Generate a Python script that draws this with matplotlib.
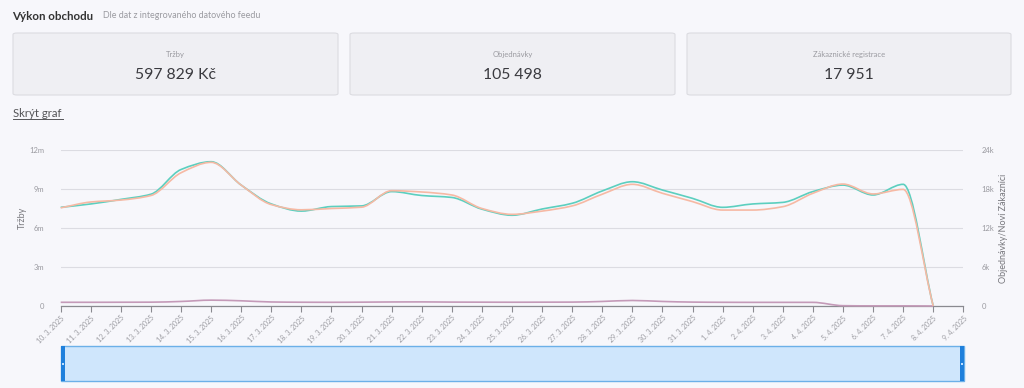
import matplotlib
matplotlib.use('Agg')
import matplotlib.pyplot as plt
import numpy as np
from matplotlib.path import Path
from matplotlib.patches import PathPatch, FancyBboxPatch, Rectangle
from matplotlib.lines import Line2D

plt.rcParams['font.family'] = ['Lato', 'DejaVu Sans']

dates = ['10. 3. 2025', '11. 3. 2025', '12. 3. 2025', '13. 3. 2025', '14. 3. 2025',
         '15. 3. 2025', '16. 3. 2025', '17. 3. 2025', '18. 3. 2025', '19. 3. 2025',
         '20. 3. 2025', '21. 3. 2025', '22. 3. 2025', '23. 3. 2025', '24. 3. 2025',
         '25. 3. 2025', '26. 3. 2025', '27. 3. 2025', '28. 3. 2025', '29. 3. 2025',
         '30. 3. 2025', '31. 3. 2025', '1. 4. 2025', '2. 4. 2025', '3. 4. 2025',
         '4. 4. 2025', '5. 4. 2025', '6. 4. 2025', '7. 4. 2025', '8. 4. 2025',
         '9. 4. 2025']

# trzby v milionech Kc (10.3. - 8.4.)
trzby = [7.59, 7.85, 8.2, 8.6, 10.5, 11.1, 9.3, 7.85, 7.3, 7.65,
         7.7, 8.8, 8.5, 8.35, 7.45, 6.98, 7.46, 7.9, 8.85, 9.56,
         8.92, 8.28, 7.59, 7.85, 7.97, 8.8, 9.3, 8.54, 9.36, 0]
objednavky = [15100, 16000, 16300, 17000, 20500, 22100, 18600, 15600, 14800, 15000,
              15200, 17740, 17540, 17080, 15000, 14100, 14600, 15400, 17200, 18720,
              17340, 16060, 14760, 14760, 15280, 17340, 18760, 17240, 17940, 0]
zakaznici = [570, 570, 580, 590, 700, 900, 800, 620, 580, 570,
             590, 620, 630, 600, 590, 580, 590, 600, 700, 850,
             700, 600, 570, 560, 560, 560, 50, 20, 20, 0]

kpi_labels = ['Tržby', 'Objednávky', 'Zákaznické registrace']
kpi_values = ['597 829 Kč', '105 498', '17 951']

W, H = 1024, 388
BG = '#f7f7fb'


def fx(px):
    return px / W


def fy(py):
    return 1 - py / H


def smooth(ax, y, color):
    # monotonni kubicka krivka pres body (Bezier)
    x = np.arange(len(y), dtype=float)
    y = np.asarray(y, dtype=float)
    d = np.diff(y)
    t = np.zeros(len(y))
    t[0], t[-1] = d[0], d[-1]
    for i in range(1, len(y) - 1):
        if d[i - 1] * d[i] > 0:
            t[i] = 2 / (1 / d[i - 1] + 1 / d[i])
    verts = [(x[0], y[0])]
    codes = [Path.MOVETO]
    for i in range(len(y) - 1):
        verts += [(x[i] + 1 / 3, y[i] + t[i] / 3),
                  (x[i + 1] - 1 / 3, y[i + 1] - t[i + 1] / 3),
                  (x[i + 1], y[i + 1])]
        codes += [Path.CURVE4] * 3
    ax.add_patch(PathPatch(Path(verts, codes), fill=False, edgecolor=color,
                           lw=1.2, zorder=3, clip_on=False))


fig = plt.figure(figsize=(W / 100, H / 100), dpi=100, facecolor=BG)

# hlavicka
fig.text(fx(12), fy(16), 'Výkon obchodu', fontsize=8.3, fontweight='bold',
         color='#333333', va='center')
fig.text(fx(103), fy(16), 'Dle dat z integrovaného datového feedu', fontsize=6.4,
         color='#9a9aa0', va='center')

# karty
cards_x = [(13, 338), (350, 675), (687, 1011)]
for (x0, x1), lab, val in zip(cards_x, kpi_labels, kpi_values):
    fig.add_artist(FancyBboxPatch((fx(x0), fy(95)), fx(x1 - x0), 62 / H,
                                  boxstyle='round,pad=0,rounding_size=0.004',
                                  transform=fig.transFigure, facecolor='#efeff3',
                                  edgecolor='#dcdce1', lw=0.8))
    cx = fx((x0 + x1) / 2)
    fig.text(cx, fy(54), lab, fontsize=5.5, color='#9a9aa0', ha='center', va='center')
    fig.text(cx, fy(75), val, fontsize=11.3, color='#3a3a3f', ha='center', va='center')

fig.text(fx(13), fy(113), 'Skrýt graf', fontsize=8.2, color='#555558', va='center')
fig.add_artist(Line2D([fx(13), fx(63)], [fy(119), fy(119)], color='#555558', lw=0.7))

# graf
ax = fig.add_axes([fx(60.7), fy(306), fx(902.6), 156 / H])
ax.set_facecolor(BG)
ax2 = ax.twinx()
ax.set_xlim(0, len(dates) - 1)
ax.set_ylim(0, 12)
ax2.set_ylim(0, 24000)

ax.set_yticks([0, 3, 6, 9, 12])
ax.set_yticklabels(['0', '3m', '6m', '9m', '12m'])
ax2.set_yticks([0, 6000, 12000, 18000, 24000])
ax2.set_yticklabels(['0', '6k', '12k', '18k', '24k'])
ax.grid(axis='y', color='#dcdce2', lw=0.8)
ax.set_axisbelow(True)
for a in (ax, ax2):
    for s in a.spines.values():
        s.set_visible(False)
    a.tick_params(axis='y', length=0, labelsize=5.5, labelcolor='#9a9aa0')
ax.tick_params(axis='y', pad=12)
ax2.tick_params(axis='y', pad=13)
ax.spines['bottom'].set_visible(True)
ax.spines['bottom'].set_color('#8a8a90')
ax.spines['bottom'].set_linewidth(0.9)

ax.set_xticks(range(len(dates)))
ax.set_xticklabels(dates, rotation=45, ha='right', rotation_mode='anchor')
ax.tick_params(axis='x', length=4, color='#8a8a90', labelsize=5, labelcolor='#9a9aa0', pad=2)

fig.text(fx(22), fy(218), 'Tržby', fontsize=6.5, color='#77777c', rotation=90,
         ha='center', va='center')
fig.text(fx(1003), fy(228), 'Objednávky/Noví Zákazníci', fontsize=6.5, color='#77777c',
         rotation=90, ha='center', va='center')

smooth(ax2, zakaznici, '#c49ab8')
smooth(ax2, objednavky, '#f6b9a4')
smooth(ax, trzby, '#5ccfbf')

# posuvnik
fig.add_artist(Rectangle((fx(61), fy(381)), fx(903), 35 / H, transform=fig.transFigure,
                         facecolor='#cfe6fc', edgecolor='#6cb0e8', lw=1))
for hx in (61, 960):
    fig.add_artist(Rectangle((fx(hx), fy(381)), fx(4), 35 / H, transform=fig.transFigure,
                             facecolor='#1f80dc', edgecolor='none'))
    fig.add_artist(Rectangle((fx(hx + 1.3), fy(364.5)), fx(1.4), 1.4 / H,
                             transform=fig.transFigure, facecolor='#bfe0ff', edgecolor='none'))

fig.savefig('out.png', dpi=100, facecolor=BG)
